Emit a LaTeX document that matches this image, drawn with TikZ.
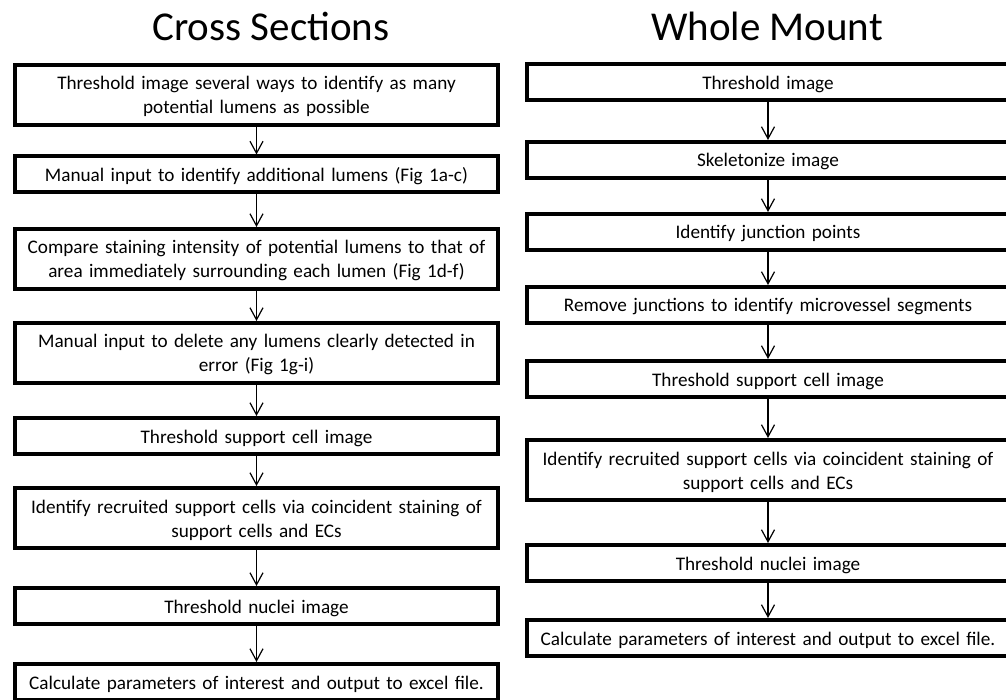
\documentclass[tikz,border=0pt]{standalone}
\usepackage{fontspec}
\setmainfont{Carlito}[WordSpace=0.6]
\newfontfamily\titlefont{Carlito}
\usetikzlibrary{arrows.meta}
\tikzset{
  stepbox/.style={draw=black, line width=4pt, fill=white, inner sep=0pt, align=center,
    font=\fontsize{19.2}{24}\selectfont, text width=476pt, minimum height=36pt,
    text height=19pt, text depth=5pt},
  leftbox/.style={stepbox, minimum width=483pt},
  rightbox/.style={stepbox, minimum width=482pt},
  tall/.style={minimum height=60pt, text depth=29pt},
  flow/.style={line width=1.2pt, -{Straight Barb[length=12pt,width=13pt,line width=1.2pt]}},
  title/.style={font=\titlefont\fontsize{41}{46}\selectfont, anchor=base}
}
\begin{document}
\begin{tikzpicture}[x=1pt,y=-1pt]
\useasboundingbox (0,0) rectangle (1006,700);
\clip (0,0) rectangle (1006,700);
\fill[white] (0,0) rectangle (1006,700);
\node[title] (t1) at (271,40.5) {Cross Sections};
\node[title] (t2) at (767,40.5) {Whole Mount};
% left column
\node[leftbox,tall] (l1) at (256.5,95) {Threshold image several ways to identify as many\\potential lumens as possible};
\node[leftbox] (l2) at (256.5,174.5) {Manual input to identify additional lumens (Fig 1a-c)};
\node[leftbox,tall] (l3) at (256.5,259) {Compare staining intensity of potential lumens to that of\\area immediately surrounding each lumen (Fig 1d-f)};
\node[leftbox,tall] (l4) at (256.5,353) {Manual input to delete any lumens clearly detected in\\error (Fig 1g-i)};
\node[leftbox] (l5) at (256.5,436) {Threshold support cell image};
\node[leftbox,tall] (l6) at (256.5,518) {Identify recruited support cells via coincident staining of\\support cells and ECs};
\node[leftbox] (l7) at (256.5,606) {Threshold nuclei image};
\node[leftbox] (l8) at (256.5,682) {Calculate parameters of interest and output to excel file.};
% right column
\node[rightbox] (r1) at (768,82.5) {Threshold image};
\node[rightbox] (r2) at (768,160) {Skeletonize image};
\node[rightbox] (r3) at (768,232) {Identify junction points};
\node[rightbox] (r4) at (768,305) {Remove junctions to identify microvessel segments};
\node[rightbox] (r5) at (768,379) {Threshold support cell image};
\node[rightbox,tall] (r6) at (768,470) {Identify recruited support cells via coincident staining of\\support cells and ECs};
\node[rightbox] (r7) at (768,563) {Threshold nuclei image};
\node[rightbox] (r8) at (768,638) {Calculate parameters of interest and output to excel file.};
% arrows
\foreach \a/\b in {l1/l2,l2/l3,l3/l4,l4/l5,l5/l6,l6/l7,l7/l8,r1/r2,r2/r3,r3/r4,r4/r5,r5/r6,r6/r7,r7/r8}
  \draw[flow] (\a.south) -- (\b.north);
\end{tikzpicture}
\end{document}
